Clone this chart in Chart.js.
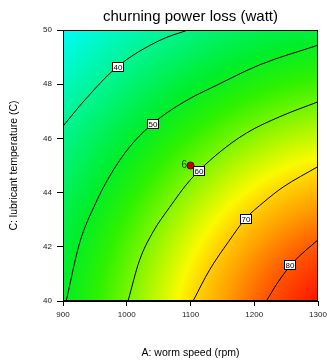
<!DOCTYPE html>
<html>
<head>
<meta charset="utf-8">
<script src="https://cdn.jsdelivr.net/npm/chart.js@4.4.0/dist/chart.umd.min.js"></script>
<style>
  html, body { margin: 0; padding: 0; background: #fff; }
</style>
</head>
<body>
<canvas id="c" width="327" height="360"></canvas>
<script>
// --- Data (A: worm speed rpm, C: lubricant temp C) ---
const levels = [40, 50, 60, 70, 80];

const speed40 = [900, 934, 985, 1052, 1096];
const temp40 = [46.45, 47.41, 48.64, 49.62, 50];

const speed50 = [905, 926, 950, 973, 1005, 1041, 1090, 1140, 1209, 1300];
const temp50 = [40, 42.14, 43.55, 44.6, 45.7, 46.55, 47.35, 47.95, 48.72, 49.44];

const speed60 = [1002, 1020, 1040, 1067, 1099, 1140, 1188, 1240, 1300];
const temp60 = [40, 41.5, 42.5, 43.45, 44.45, 45.38, 46.2, 46.8, 47.35];

const speed70 = [1104, 1130, 1160, 1186, 1215, 1245, 1300];
const temp70 = [40, 41.15, 42.2, 43.03, 43.65, 44.2, 44.96];

const speed80 = [1219, 1236, 1260, 1300];
const temp80 = [40, 40.65, 41.4, 42.26];

// where the level labels sit on each contour
const labelSpeed = [985, 1041, 1113, 1186, 1255];
const labelTemp = [48.64, 46.55, 44.81, 43.05, 41.33];

// design point
const designSpeed = [1100];
const designTemp = [45];
const designLabel = ['6'];

const speedTicks = [900, 1000, 1100, 1200, 1300];
const tempTicks = [40, 42, 44, 46, 48, 50];

const contourSpeeds = [speed40, speed50, speed60, speed70, speed80];
const contourTemps = [temp40, temp50, temp60, temp70, temp80];

const FONT = 'Arial, "Liberation Sans", sans-serif';

// Colour field behind the contours: radial blend centred off the lower right corner
const backgroundField = {
  id: 'backgroundField',
  beforeDatasetsDraw(chart) {
    const { ctx, chartArea: a, scales: { x, y } } = chart;
    const cx = x.getPixelForValue(1365);
    const cy = y.getPixelForValue(38.6);
    const R = 470;
    const stops = [
      [40, 'rgb(255,0,0)'],
      [60, 'rgb(255,25,0)'],
      [104, 'rgb(255,90,0)'],
      [140, 'rgb(255,160,0)'],
      [168, 'rgb(255,210,0)'],
      [186, 'rgb(250,250,0)'],
      [233, 'rgb(125,245,0)'],
      [265, 'rgb(45,242,0)'],
      [300, 'rgb(0,238,40)'],
      [365, 'rgb(0,245,150)'],
      [430, 'rgb(0,252,252)'],
      [470, 'rgb(0,230,255)']
    ];
    const g = ctx.createRadialGradient(cx, cy, 0, cx, cy, R);
    stops.forEach(([r, c]) => g.addColorStop(r / R, c));
    ctx.save();
    ctx.fillStyle = g;
    ctx.fillRect(a.left, a.top, a.right - a.left, a.bottom - a.top);
    ctx.restore();
  }
};

// Boxed level labels, design point label and the frame
const annotations = {
  id: 'annotations',
  afterDatasetsDraw(chart) {
    const { ctx, chartArea: a, scales: { x, y } } = chart;
    ctx.save();
    ctx.font = '8px ' + FONT;
    ctx.textAlign = 'center';
    ctx.textBaseline = 'middle';
    levels.forEach((lv, i) => {
      const px = x.getPixelForValue(labelSpeed[i]);
      const py = y.getPixelForValue(labelTemp[i]);
      const w = 11, h = 9;
      const bx = Math.round(px - w / 2) + 0.5, by = Math.round(py - h / 2) + 0.5;
      ctx.fillStyle = '#fff';
      ctx.fillRect(bx, by, w, h);
      ctx.strokeStyle = '#000';
      ctx.lineWidth = 1;
      ctx.strokeRect(bx, by, w, h);
      ctx.fillStyle = '#000';
      ctx.fillText(String(lv), bx + w / 2, by + h / 2 + 0.5);
    });
    ctx.font = '10px ' + FONT;
    ctx.textAlign = 'right';
    ctx.fillStyle = '#1e4a00';
    designLabel.forEach((t, i) => {
      ctx.fillText(t, x.getPixelForValue(designSpeed[i]) - 3.5, y.getPixelForValue(designTemp[i]));
    });
    ctx.strokeStyle = '#000';
    ctx.lineWidth = 1;
    ctx.strokeRect(a.left + 0.5, a.top + 0.5, a.right - a.left - 1, a.bottom - a.top - 1);
    ctx.restore();
  }
};

const datasets = contourSpeeds.map((xs, i) => ({
  label: String(levels[i]),
  data: xs.map((v, j) => ({ x: v, y: contourTemps[i][j] })),
  borderColor: '#000',
  borderWidth: 1,
  pointRadius: 0,
  fill: false,
  cubicInterpolationMode: 'monotone'
}));

datasets.push({
  label: 'design point',
  data: designSpeed.map((v, j) => ({ x: v, y: designTemp[j] })),
  showLine: false,
  pointRadius: 3.5,
  pointBackgroundColor: '#c00000',
  pointBorderColor: '#500000',
  pointBorderWidth: 1
});

new Chart(document.getElementById('c'), {
  type: 'line',
  data: { datasets },
  options: {
    responsive: false,
    animation: false,
    events: [],
    layout: { padding: { left: 0, right: 9, top: 0, bottom: 0 } },
    plugins: {
      legend: { display: false },
      tooltip: { enabled: false },
      title: {
        display: true,
        text: 'churning power loss (watt)',
        fullSize: false,
        color: '#000',
        font: { family: FONT, size: 15, weight: 'normal' },
        padding: { top: 8, bottom: 4 }
      }
    },
    scales: {
      x: {
        type: 'linear',
        min: 900,
        max: 1300,
        afterBuildTicks: s => { s.ticks = speedTicks.map(v => ({ value: v })); },
        afterFit: s => { s.height = 59; s.paddingLeft = 0; s.paddingRight = 0; },
        ticks: { color: '#222', font: { family: FONT, size: 8 }, padding: 4, maxRotation: 0,
                 callback: v => String(v) },
        grid: { drawOnChartArea: false, tickLength: 5, color: '#000' },
        border: { color: '#000' },
        title: {
          display: true,
          text: 'A: worm speed (rpm)',
          color: '#000',
          font: { family: FONT, size: 10.5 },
          padding: { top: 0, bottom: 1 }
        }
      },
      y: {
        type: 'linear',
        min: 40,
        max: 50,
        afterBuildTicks: s => { s.ticks = tempTicks.map(v => ({ value: v })); },
        afterFit: s => { s.width = 63; },
        ticks: { color: '#222', font: { family: FONT, size: 8 }, padding: 5,
                 callback: v => String(v) },
        grid: { drawOnChartArea: false, tickLength: 6, color: '#000' },
        border: { color: '#000' },
        title: {
          display: true,
          text: 'C: lubricant temperature (C)',
          color: '#000',
          font: { family: FONT, size: 10.5 },
          padding: { top: 8, bottom: 0 }
        }
      }
    }
  },
  plugins: [backgroundField, annotations]
});
</script>
</body>
</html>
